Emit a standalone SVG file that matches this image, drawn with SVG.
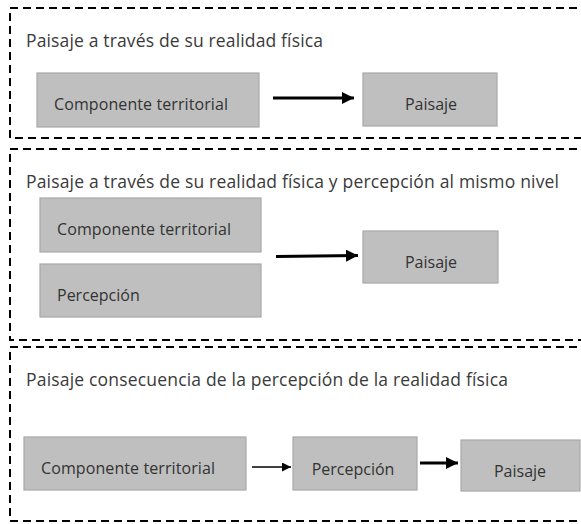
<svg xmlns="http://www.w3.org/2000/svg" width="581" height="524" viewBox="0 0 581 524">
<defs>
<style>
.frame{fill:none;stroke:#000;stroke-width:2;stroke-dasharray:8 5}
.box{fill:#bfbfbf;stroke:#a8a8a8;stroke-width:1.2}
.t{font-family:"Open Sans","Noto Sans",sans-serif;font-size:16px;fill:#333}
.title{font-family:"Open Sans","Noto Sans",sans-serif;font-size:17.5px;fill:#3a3a3a}
.c{stroke:#000;fill:none}
</style>
<marker id="ah" viewBox="0 0 10 10" refX="10" refY="5" markerWidth="4" markerHeight="4" markerUnits="strokeWidth" orient="auto">
<path d="M0,0 L10,5 L0,10 z" fill="#000"/>
</marker>
<marker id="ah2" viewBox="0 0 10 10" refX="10" refY="5" markerWidth="6" markerHeight="6" markerUnits="strokeWidth" orient="auto">
<path d="M0,0 L10,5 L0,10 z" fill="#000"/>
</marker>
</defs>
<g id="section1">
<path class="frame" d="M590,8 H10 V138 H590"/>
<text class="title" x="26" y="47" textLength="297">Paisaje a través de su realidad física</text>
</g>
<g id="section2">
<path class="frame" d="M590,149 H10 V340 H590"/>
<text class="title" x="26" y="188" textLength="533">Paisaje a través de su realidad física y percepción al mismo nivel</text>
</g>
<g id="section3">
<path class="frame" d="M590,347 H10 V521 H590"/>
<text class="title" x="26" y="386" textLength="482">Paisaje consecuencia de la percepción de la realidad física</text>
</g>
<g id="s1-componente">
<rect class="box" x="37" y="73" width="222" height="54"/>
<text class="t" x="54" y="110" textLength="174">Componente territorial</text>
</g>
<g id="s1-paisaje">
<rect class="box" x="363" y="73" width="134" height="53"/>
<text class="t" x="431" y="110" text-anchor="middle">Paisaje</text>
</g>
<g id="s2-componente">
<rect class="box" x="40" y="198" width="221" height="54"/>
<text class="t" x="57" y="235" textLength="174">Componente territorial</text>
</g>
<g id="s2-percepcion">
<rect class="box" x="40" y="264" width="221" height="53"/>
<text class="t" x="57" y="301">Percepción</text>
</g>
<g id="s2-paisaje">
<rect class="box" x="363" y="231" width="135" height="52"/>
<text class="t" x="431" y="268" text-anchor="middle">Paisaje</text>
</g>
<g id="s3-componente">
<rect class="box" x="24" y="437" width="222" height="53"/>
<text class="t" x="41" y="474" textLength="174">Componente territorial</text>
</g>
<g id="s3-percepcion">
<rect class="box" x="293" y="437" width="124" height="53"/>
<text class="t" x="353" y="475" text-anchor="middle">Percepción</text>
</g>
<g id="s3-paisaje">
<rect class="box" x="461" y="440" width="119" height="51"/>
<text class="t" x="520" y="477" text-anchor="middle">Paisaje</text>
</g>
<g id="connectors">
<line class="c" x1="273" y1="98" x2="354" y2="98" stroke-width="3" marker-end="url(#ah)"/>
<line class="c" x1="276" y1="256.5" x2="358" y2="255.5" stroke-width="3" marker-end="url(#ah)"/>
<line class="c" x1="252" y1="467" x2="291" y2="467" stroke-width="1.5" marker-end="url(#ah2)"/>
<line class="c" x1="420" y1="463" x2="458" y2="463" stroke-width="3" marker-end="url(#ah)"/>
</g>
</svg>
